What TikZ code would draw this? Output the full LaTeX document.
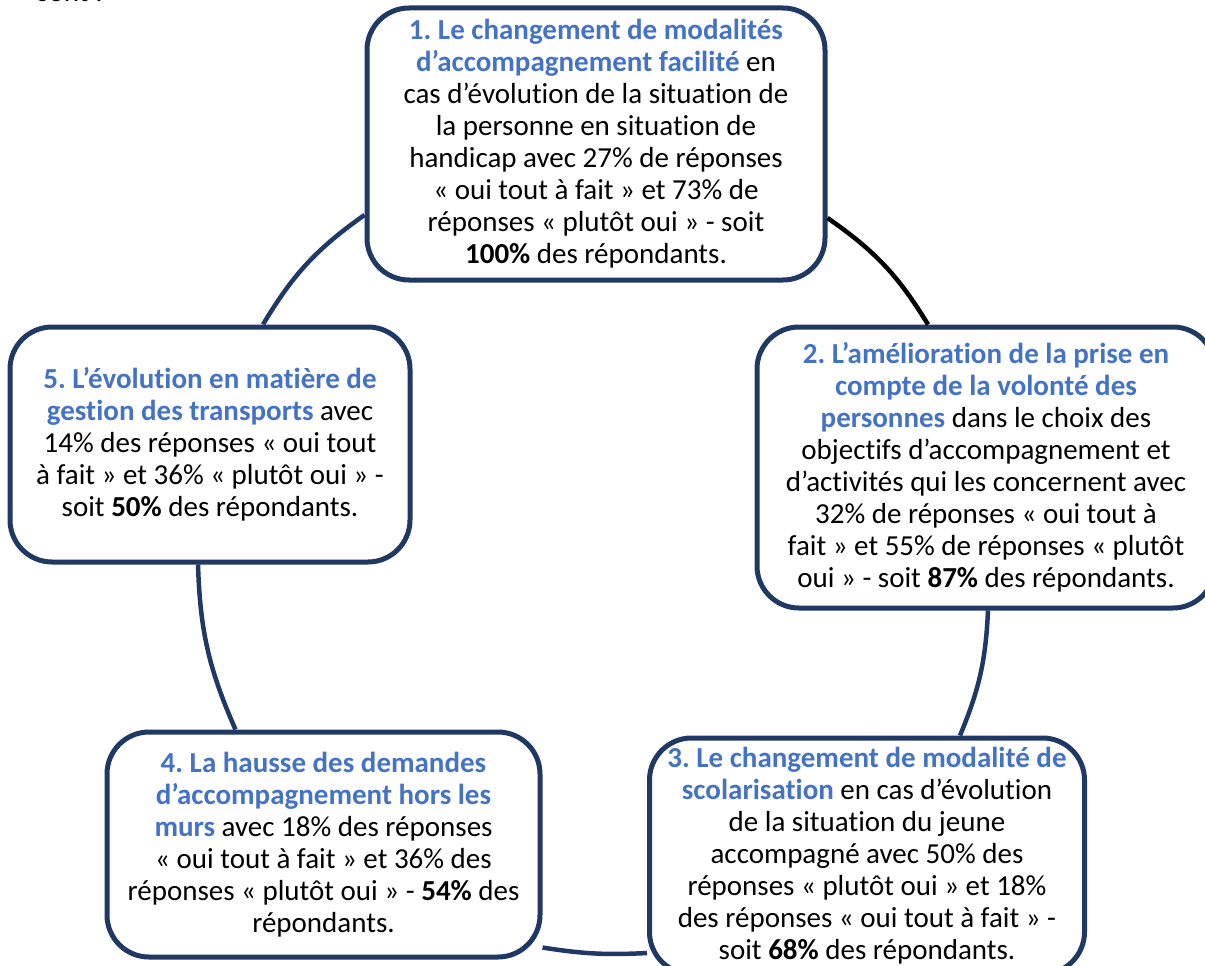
\documentclass[tikz,border=0pt]{standalone}
\usepackage{fontspec}
\setmainfont{Carlito}[Ligatures=NoCommon]
\definecolor{accblue}{HTML}{4472C4}
\definecolor{navy}{HTML}{203864}
\newcommand\hb[1]{\textcolor{accblue}{\textbf{#1}}}
\frenchspacing
\begin{document}
\begin{tikzpicture}[x=1pt,y=-1pt,
  box/.style={draw=navy, line width=5pt, fill=white, rounded corners=42pt,
    align=center, inner sep=0pt, font=\fontsize{29}{32}\selectfont},
  link/.style={draw=navy, line width=4.5pt},
  blink/.style={draw=black, line width=4.5pt}]
\useasboundingbox (0,0) rectangle (1205,966);
\clip (0,0) rectangle (1205,966);
\node[anchor=base west, inner sep=0pt, font=\fontsize{29}{32}\selectfont] (intro) at (37,2) {sont :};
\node[box, minimum width=458pt, minimum height=272pt] (n1) at (596,144) {%
\hb{1. Le changement de modalités}\\
\hb{d’accompagnement facilité} en\\
cas d’évolution de la situation de\\
la personne en situation de\\
handicap avec 27\% de réponses\\
« oui tout à fait » et 73\% de\\
réponses « plutôt oui » - soit\\
\textbf{100\%} des répondants.};
\node[box, minimum width=458pt, minimum height=281pt] (n2) at (986,467.5) {%
\hb{2. L’amélioration de la prise en}\\
\hb{compte de la volonté des}\\
\hb{personnes} dans le choix des\\
objectifs d’accompagnement et\\
d’activités qui les concernent avec\\
32\% de réponses « oui tout à\\
fait » et 55\% de réponses « plutôt\\
oui » - soit \textbf{87\%} des répondants.};
\node[box, minimum width=435pt, minimum height=236pt] (n3) at (867,856) {%
\hb{3. Le changement de modalité de}\\
\hb{scolarisation} en cas d’évolution\\
de la situation du jeune\\
accompagné avec 50\% des\\
réponses « plutôt oui » et 18\%\\
des réponses « oui tout à fait » -\\
soit \textbf{68\%} des répondants.};
\node[box, minimum width=433pt, minimum height=225pt] (n4) at (323.5,844.5) {%
\hb{4. La hausse des demandes}\\
\hb{d’accompagnement hors les}\\
\hb{murs} avec 18\% des réponses\\
« oui tout à fait » et 36\% des\\
réponses « plutôt oui » - \textbf{54\%} des\\
répondants.};
\node[box, minimum width=400pt, minimum height=235pt] (n5) at (210,444.5) {%
\hb{5. L’évolution en matière de}\\
\hb{gestion des transports} avec\\
14\% des réponses « oui tout\\
à fait » et 36\% « plutôt oui » -\\
soit \textbf{50\%} des répondants.};
\draw[blink] ([yshift=-74pt]n1.east) to[bend left=12] ([xshift=-58pt]n2.north);
\draw[link] ([xshift=2pt]n2.south) to[bend left=10] ([xshift=93pt]n3.north);
\draw[link] ([yshift=-103pt]n4.east) to[bend right=6] ([yshift=-97pt]n3.west);
\draw[link] ([xshift=-12pt]n5.south) to[bend right=11] ([xshift=-88pt]n4.north);
\draw[link] ([yshift=-71pt]n1.west) to[bend right=12] ([xshift=53pt]n5.north);
\end{tikzpicture}
\end{document}
